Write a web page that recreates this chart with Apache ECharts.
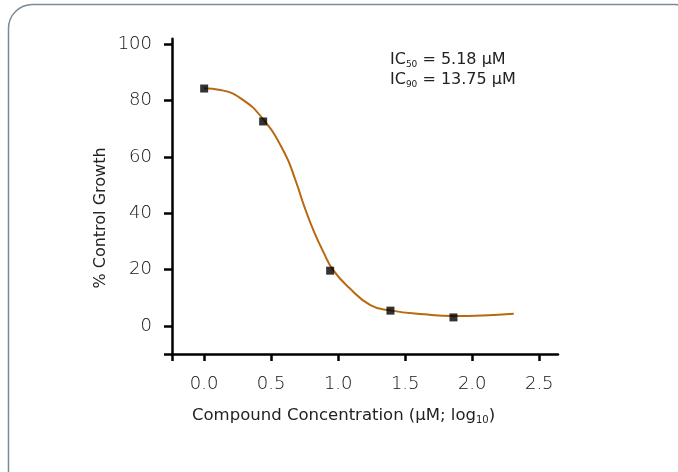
<!DOCTYPE html>
<html lang="en">
<head>
    <meta charset="UTF-8">
    <title>Control Growth</title>
    <script type="text/javascript" src="https://cdn.jsdelivr.net/npm/echarts@6.0.0/dist/echarts.min.js"></script>
    <style>
        html, body { margin: 0; padding: 0; background: #fff; }
        #chart { width: 678px; height: 472px; }
    </style>
</head>
<body>
<div id="chart"></div>
<script type="text/javascript">
    // measured points (log10 conc, % control growth)
    var pointX = [0.0, 0.44, 0.94, 1.39, 1.86];
    var pointY = [84.3, 72.6, 19.6, 5.4, 3.0];

    // fitted curve
    var curveX = [0.0, 0.12, 0.27, 0.44, 0.60, 0.68, 0.75, 0.82, 0.89, 0.96, 1.08, 1.24, 1.39, 1.64, 1.86, 2.08, 2.31];
    var curveY = [84.4, 83.8, 80.9, 73.4, 61.4, 51.9, 42.0, 33.4, 26.2, 20.0, 13.6, 7.4, 5.5, 4.1, 3.5, 3.7, 4.3];

    var xTicks = [-0.24, 0, 0.5, 1, 1.5, 2, 2.5];
    var xLabels = [0, 0.5, 1, 1.5, 2, 2.5];
    var yTicks = [-10, 0, 20, 40, 60, 80, 100];
    var yLabels = [0, 20, 40, 60, 80, 100];

    var font = 'DejaVu Sans, Helvetica, Arial, sans-serif';

    var chart = echarts.init(document.getElementById('chart'));

    var points = pointX.map(function (x, i) { return [x, pointY[i]]; });
    var curve = curveX.map(function (x, i) { return [x, curveY[i]]; });

    var option = {
        animation: false,
        grid: { left: 172, right: 120, top: 38.7, bottom: 118 },
        xAxis: {
            type: 'value',
            min: -0.24,
            max: 2.64,
            splitLine: { show: false },
            axisLine: { onZero: false, lineStyle: { color: '#000', width: 2.5 } },
            axisTick: { customValues: xTicks, length: 7, lineStyle: { color: '#000', width: 2.5 } },
            axisLabel: {
                customValues: xLabels,
                margin: 21,
                fontFamily: font,
                fontWeight: 300,
                fontSize: 18,
                color: '#111',
                formatter: function (v) { return v.toFixed(1); }
            }
        },
        yAxis: {
            type: 'value',
            min: -10,
            max: 102,
            splitLine: { show: false },
            axisLine: { onZero: false, lineStyle: { color: '#000', width: 2.5 } },
            axisTick: { customValues: yTicks, length: 8, lineStyle: { color: '#000', width: 2.5 } },
            axisLabel: {
                customValues: yLabels,
                margin: 20,
                fontFamily: font,
                fontWeight: 300,
                fontSize: 18,
                color: '#111'
            }
        },
        series: [
            {
                type: 'line',
                data: curve,
                smooth: 0.5,
                symbol: 'none',
                lineStyle: { color: '#b8680f', width: 2 },
                z: 2
            },
            {
                type: 'scatter',
                data: points,
                symbol: 'rect',
                symbolSize: 8,
                itemStyle: { color: '#000' },
                z: 3
            }
        ],
        graphic: [
            {
                type: 'rect',
                shape: { x: 8.5, y: 4.5, width: 690, height: 490, r: 24 },
                style: { fill: 'none', stroke: '#7b8a99', lineWidth: 1.5 },
                silent: true
            },
            {
                type: 'text',
                left: 192,
                top: 407,
                style: {
                    text: 'Compound Concentration (µM; log{s|10})',
                    fontFamily: font,
                    fontSize: 16.5,
                    fill: '#222',
                    rich: { s: { fontSize: 10, padding: [9, 0, 0, 0], fontFamily: font, fill: '#222' } }
                }
            },
            {
                type: 'text',
                x: 101,
                y: 218,
                rotation: Math.PI / 2,
                style: {
                    text: '% Control Growth',
                    fontFamily: font,
                    fontSize: 16,
                    fill: '#222',
                    align: 'center',
                    verticalAlign: 'middle'
                }
            },
            {
                type: 'text',
                left: 390,
                top: 50,
                style: {
                    text: 'IC{s|50} = 5.18 µM\nIC{s|90} = 13.75 µM',
                    fontFamily: font,
                    fontSize: 16,
                    lineHeight: 20,
                    fill: '#222',
                    rich: { s: { fontSize: 9, padding: [9, 0, 0, 0], fontFamily: font, fill: '#222' } }
                }
            }
        ]
    };
    chart.setOption(option);
</script>
</body>
</html>
